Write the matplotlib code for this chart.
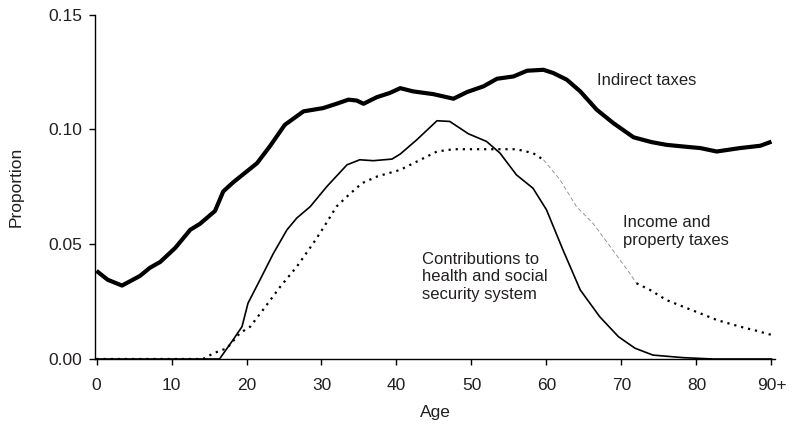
import numpy as np
import matplotlib
matplotlib.use("Agg")
from matplotlib import pyplot as plt

plt.rcParams['font.family'] = ['Liberation Sans', 'DejaVu Sans']
txt = '#231f20'

# Indirect taxes (thick line)
age_ind = [0, 1.5, 3.4, 5.8, 7.1, 8.5, 10.5, 12.5, 13.8, 15.8, 16.9, 18.2, 21.4, 23.1,
           25.1, 27.6, 30.2, 32.0, 33.6, 34.7, 35.6, 37.4, 39.1, 40.5, 42.2, 44.9,
           47.6, 49.4, 51.6, 53.4, 55.6, 57.4, 59.6, 60.9, 62.7, 64.5, 66.7, 68.9,
           71.6, 74.0, 76.0, 78.5, 80.5, 82.7, 85.8, 88.5, 90]
val_ind = [0.0384, 0.0345, 0.032, 0.0362, 0.0397, 0.0423, 0.0484, 0.0563, 0.0589,
           0.0645, 0.073, 0.0769, 0.0853, 0.0926, 0.102, 0.1079, 0.1093, 0.1112,
           0.113, 0.1126, 0.1112, 0.1141, 0.1159, 0.118, 0.1166, 0.1154, 0.1134,
           0.1163, 0.1188, 0.1221, 0.1231, 0.1256, 0.126, 0.1246, 0.1217, 0.1166,
           0.1086, 0.1028, 0.0966, 0.0945, 0.0933, 0.0925, 0.0919, 0.0904, 0.0919,
           0.0929, 0.0947]

# Contributions to health and social security (thin solid)
age_con = [0, 16.4, 18.2, 19.4, 20.2, 21.8, 23.6, 25.4, 26.7, 28.5, 30.7, 33.4, 35.1,
           36.9, 39.4, 40.5, 42.7, 45.4, 47.1, 49.6, 52.0, 53.8, 56.0, 58.2, 60.0,
           62.2, 64.5, 67.1, 69.6, 71.8, 74.2, 78.2, 82.2, 90]
val_con = [0, 0, 0.0083, 0.0141, 0.0243, 0.0345, 0.0461, 0.0563, 0.0614, 0.0664,
           0.0751, 0.0846, 0.0868, 0.0864, 0.0871, 0.0893, 0.0955, 0.1038, 0.1035,
           0.0981, 0.0948, 0.0897, 0.0802, 0.0744, 0.065, 0.0475, 0.0301, 0.0184,
           0.0097, 0.0047, 0.0017, 0.0006, 0, 0]

# Income and property taxes (dotted)
age_inc = [0, 14.2, 15.6, 17.4, 19.1, 20.5, 22.2, 24.5, 26.7, 28.9, 30.2, 32.0, 33.4,
           35.4, 37.4, 40.5, 42.7, 45.4, 47.6, 51.6, 56.0, 58.2, 59.6, 61.8, 64.0,
           66.2, 68.5, 71.1, 72.0, 73.8, 76.0, 78.2, 80.5, 82.7, 85.8, 88.0, 90]
val_inc = [0, 0, 0.0025, 0.0047, 0.0112, 0.0141, 0.0214, 0.0315, 0.0402, 0.0504,
           0.0569, 0.0664, 0.0708, 0.0766, 0.0795, 0.0824, 0.086, 0.0904, 0.0914,
           0.0914, 0.0914, 0.0897, 0.0868, 0.0781, 0.0664, 0.0591, 0.049, 0.0373,
           0.033, 0.0301, 0.0257, 0.0228, 0.0199, 0.017, 0.0141, 0.0123, 0.0105]

xticks = [0, 10, 20, 30, 40, 50, 60, 70, 80, 90]
xlabels = ['0', '10', '20', '30', '40', '50', '60', '70', '80', '90+']
yticks = [0, 0.05, 0.10, 0.15]

fig = plt.figure(figsize=(7.97, 4.24), dpi=100)
ax = fig.add_axes([0.1192, 0.1533, 0.8535, 0.812])

ax.plot(age_ind, val_ind, color='black', lw=3.0, solid_capstyle='butt')
ax.plot(age_con, val_con, color='black', lw=1.2)

a = np.array(age_inc)
v = np.array(val_inc)
m1 = a <= 59.6
m2 = (a >= 59.6) & (a <= 72.0)
m3 = a >= 72.0
ax.plot(a[m1], v[m1], color='black', lw=1.6, linestyle=(0, (1, 2.2)))
ax.plot(a[m2], v[m2], color='#888888', lw=0.6, linestyle=(0, (5, 3)))
ax.plot(a[m3], v[m3], color='black', lw=1.6, linestyle=(0, (1, 2.2)))

ax.text(66.7, 0.1212, 'Indirect taxes', fontsize=12, color=txt, va='center', ha='left')
ax.text(70.2, 0.0555, 'Income and\nproperty taxes', fontsize=12, color=txt,
        va='center', ha='left', linespacing=1.2)
ax.text(43.4, 0.0359, 'Contributions to\nhealth and social\nsecurity system', fontsize=12,
        color=txt, va='center', ha='left', linespacing=1.2)

ax.set_xlim(-0.2, 90.5)
ax.set_ylim(0, 0.15)
ax.set_xticks(xticks)
ax.set_xticklabels(xlabels)
ax.set_yticks(yticks)
ax.set_yticklabels(['%.2f' % t for t in yticks])
ax.tick_params(direction='out', length=4, width=1, labelsize=12.5, labelcolor=txt)
ax.tick_params(axis='x', pad=10)
ax.tick_params(axis='y', pad=5)
for s in ['top', 'right']:
    ax.spines[s].set_visible(False)
for s in ['left', 'bottom']:
    ax.spines[s].set_linewidth(1)
ax.set_xlabel('Age', fontsize=12.5, color=txt, labelpad=8)
ax.set_ylabel('Proportion', fontsize=12.5, color=txt, labelpad=18)

fig.savefig('out.png', dpi=100)
